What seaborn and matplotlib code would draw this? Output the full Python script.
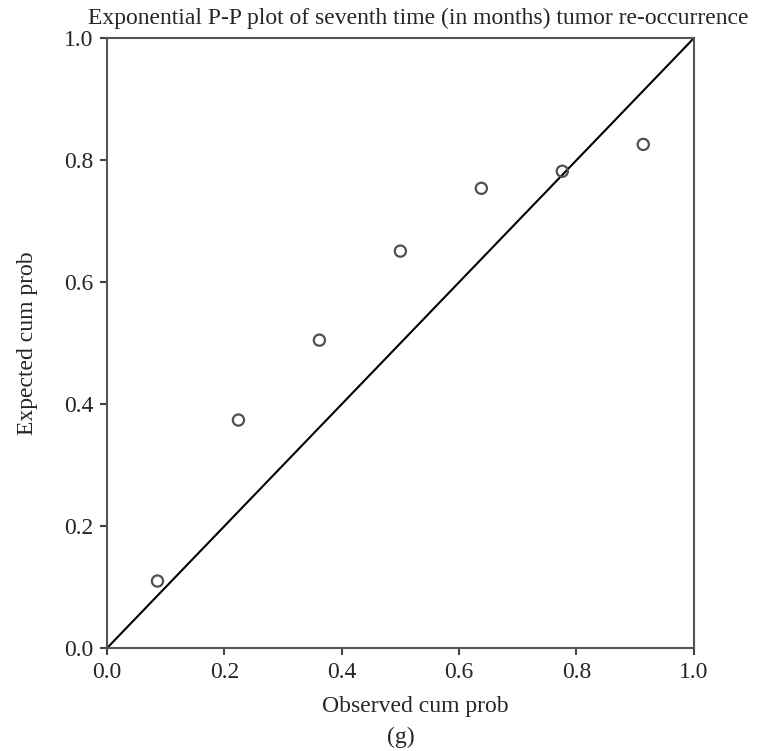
import numpy as np
import matplotlib
matplotlib.use("Agg")
import matplotlib.pyplot as plt
import seaborn as sns

# observed vs expected cumulative probabilities
observed = [0.086, 0.224, 0.362, 0.500, 0.638, 0.776, 0.914]
expected = [0.110, 0.374, 0.505, 0.651, 0.754, 0.782, 0.826]
ticks = [0.0, 0.2, 0.4, 0.6, 0.8, 1.0]

sns.set_style("white")
plt.rcParams['font.family'] = ['Liberation Serif', 'DejaVu Serif']

fig = plt.figure(figsize=(7.59, 7.51), dpi=100)
ax = fig.add_axes([0.141, 0.137, 0.773, 0.812])

ax.plot([0, 1], [0, 1], color='black', lw=1.5)
sns.scatterplot(x=observed, y=expected, ax=ax, marker='o', s=65,
                facecolor='none', edgecolor='#505050', linewidth=1.6, zorder=3)

ax.set_xlim(0, 1)
ax.set_ylim(0, 1)
ax.set_xticks(ticks)
ax.set_yticks(ticks)
ax.set_xticklabels([f"{t:.1f}" for t in ticks])
ax.set_yticklabels([f"{t:.1f}" for t in ticks])
ax.tick_params(axis='both', direction='out', length=5, width=1.5, color='#444444',
               labelsize=17, bottom=True, left=True, pad=5)
for sp in ax.spines.values():
    sp.set_color('#555555')
    sp.set_linewidth(1.5)

ax.set_xlabel("Observed cum prob", fontsize=17)
ax.set_ylabel("Expected cum prob", fontsize=17)
ax.xaxis.set_label_coords(0.526, -0.095)
ax.xaxis.label.set_va('center')
ax.yaxis.set_label_coords(-0.136, 0.5)
ax.yaxis.label.set_va('center')
ax.text(0.531, 1.032, "Exponential P-P plot of seventh time (in months) tumor re-occurrence",
        transform=ax.transAxes, ha='center', va='center', fontsize=17)
fig.text(0.528, 0.0175, "(g)", ha='center', va='center', fontsize=17)

fig.savefig("out.png", dpi=100)
